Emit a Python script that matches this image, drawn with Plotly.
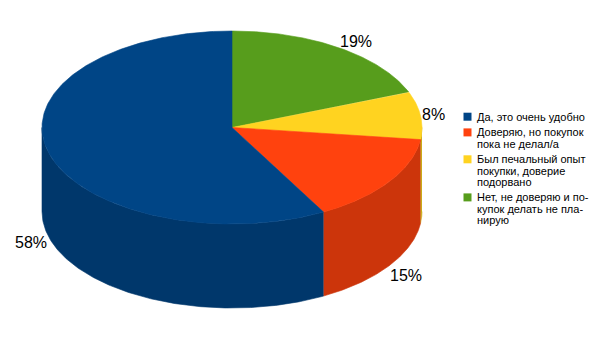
import numpy as np
import plotly.graph_objects as go

# ---- data ----
categories = [
    "Да, это очень удобно",
    "Доверяю, но покупок пока не делал/а",
    "Был печальный опыт покупки, доверие подорвано",
    "Нет, не доверяю и покупок делать не планирую",
]
values = [58, 15, 8, 19]
pct_labels = ["58%", "15%", "8%", "19%"]
legend_lines = [
    ["Да, это очень удобно"],
    ["Доверяю, но покупок", "пока не делал/а"],
    ["Был печальный опыт", "покупки, доверие", "подорвано"],
    ["Нет, не доверяю и по-", "купок делать не пла-", "нирую"],
]
top_colors = ["#004586", "#ff420e", "#ffd320", "#579d1c"]
side_colors = ["#00376b", "#cc350b", "#ccaa19", "#467e16"]

# ---- geometry (layout) ----
W, H = 614, 340
cx, cy = 232.0, 127.5
ra, rb = 190.0, 96.5
depth = 84.0
draw_order = [3, 2, 1, 0]  # clockwise from 12 o'clock

total = float(sum(values))
starts, ends = {}, {}
acc = 0.0
for i in draw_order:
    starts[i] = acc / total * 360.0
    acc += values[i]
    ends[i] = acc / total * 360.0


def pt(theta_deg):
    t = np.radians(theta_deg)
    return cx + ra * np.sin(t), cy - rb * np.cos(t)


fig = go.Figure()

# side walls (front half: 90..270 deg)
for i in draw_order:
    a0, a1 = max(starts[i], 90.0), min(ends[i], 270.0)
    if a1 <= a0:
        continue
    th = np.linspace(a0, a1, 200)
    x, y = pt(th)
    xs = np.concatenate([x, x[::-1]])
    ys = np.concatenate([y, (y + depth)[::-1]])
    fig.add_trace(go.Scatter(x=xs, y=ys, fill="toself", mode="lines",
                             fillcolor=side_colors[i],
                             line=dict(color=side_colors[i], width=0.6),
                             hoverinfo="skip", showlegend=False))

# top faces
for i in draw_order:
    th = np.linspace(starts[i], ends[i], 300)
    x, y = pt(th)
    xs = np.concatenate([[cx], x, [cx]])
    ys = np.concatenate([[cy], y, [cy]])
    fig.add_trace(go.Scatter(x=xs, y=ys, fill="toself", mode="lines",
                             fillcolor=top_colors[i],
                             line=dict(color=top_colors[i], width=0.6),
                             name=categories[i], hoverinfo="skip",
                             showlegend=False))

annotations = []
# percentage labels
for i in draw_order:
    mid = np.radians((starts[i] + ends[i]) / 2.0)
    s, c = np.sin(mid), np.cos(mid)
    lx = cx + (ra - 1) * s
    ly = cy - (rb + 8) * c + (depth + 5 if c < 0 else 0)
    annotations.append(dict(x=lx, y=ly, text=pct_labels[i], showarrow=False,
                            xanchor="left" if s > 0 else "right", yanchor="middle",
                            font=dict(size=16, color="#000000",
                                      family="Liberation Sans, Arial, sans-serif")))

# legend
shapes = []
leg_x_sw, leg_x_txt = 463.5, 475
y0 = 116.7
line_pitch = 11.2
entry_gap = 4.5
yy = y0
for i, lines in enumerate(legend_lines):
    shapes.append(dict(type="rect", xref="x", yref="y",
                       x0=leg_x_sw, x1=leg_x_sw + 8, y0=yy - 4, y1=yy + 4,
                       fillcolor=top_colors[i], line=dict(width=0)))
    for ln in lines:
        annotations.append(dict(x=leg_x_txt, y=yy, text=ln, showarrow=False,
                                xanchor="left", yanchor="middle",
                                font=dict(size=11, color="#000000",
                                          family="Liberation Sans, Arial, sans-serif")))
        yy += line_pitch
    yy += entry_gap

fig.update_layout(
    width=W, height=H,
    margin=dict(l=0, r=0, t=0, b=0),
    paper_bgcolor="white", plot_bgcolor="white",
    xaxis=dict(range=[0, W], visible=False, fixedrange=True),
    yaxis=dict(range=[H, 0], visible=False, fixedrange=True),
    annotations=annotations, shapes=shapes,
    showlegend=False,
)
fig.write_html("out.html")
